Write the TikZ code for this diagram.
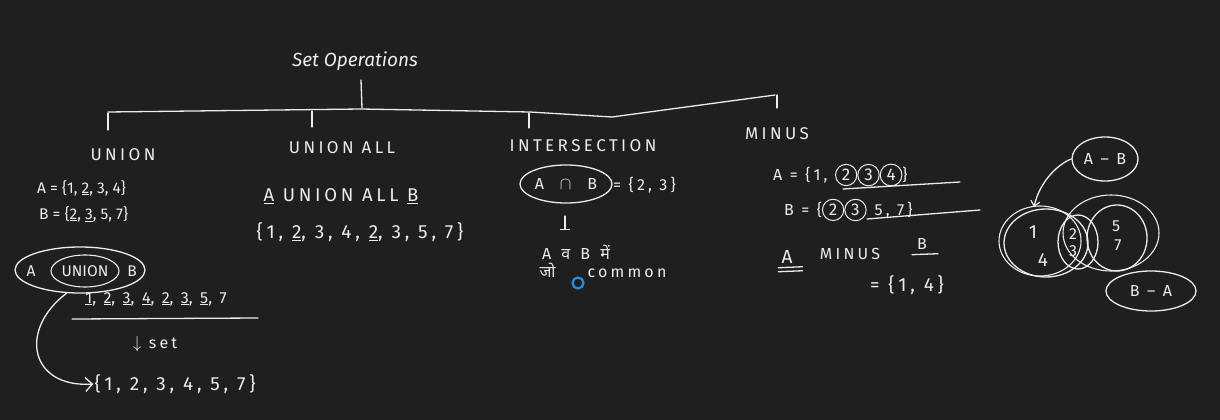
\documentclass[tikz,border=0pt]{standalone}
\usepackage{fontspec}
\setmainfont[LetterSpace=20]{Fira Sans}
\newfontfamily\titlefont{Fira Sans}
\newfontfamily\deva[Script=Devanagari]{Noto Sans}
\usetikzlibrary{arrows.meta,positioning,shapes.geometric}
\definecolor{bg}{RGB}{31,31,31}
\definecolor{ink}{RGB}{236,236,236}
\definecolor{cursorblue}{RGB}{40,140,220}
\newcommand\cird[1]{\tikz[baseline=(c.base)]\node[draw=ink,circle,inner sep=2.5pt,line width=1pt,text=ink](c){#1};}
\begin{document}
\begin{tikzpicture}[x=1pt,y=-1pt,
  every node/.style={text=ink,inner sep=1pt,font=\fontsize{17}{17}\selectfont},
  chalk/.style={draw=ink,line width=1.3pt,line cap=round,line join=round},
  hand/.style={font=\fontsize{16}{16}\selectfont},
  plain/.style={font=\fontsize{15.5}{15.5}\selectfont\titlefont},
  big/.style={font=\fontsize{19}{19}\selectfont},
  oval/.style={ellipse,draw=ink,line width=1.3pt}]
\fill[bg] (0,0) rectangle (1220,420);
\useasboundingbox (0,0) rectangle (1220,420);

% tree
\node[font=\fontsize{19}{19}\selectfont\titlefont\itshape] (title) at (355,61) {Set Operations};
\coordinate (rt) at (361,80);
\coordinate (rb) at (362,108);
\draw[chalk] (rt) -- (rb);
\draw[chalk] (108,112) -- (361,109) -- (530,112) -- (612,117) -- (775,95);
\coordinate (t1) at (108,113); \coordinate (t1b) at (108,130);
\coordinate (t2) at (312,111); \coordinate (t2b) at (312,127);
\coordinate (t3) at (529,113); \coordinate (t3b) at (529,128);
\coordinate (t4) at (777,95);  \coordinate (t4b) at (777,108);
\draw[chalk] (t1) -- (t1b) (t2) -- (t2b) (t3) -- (t3b) (t4) -- (t4b);

\node (union) at (123,155) {UNION};
\node (unall) at (342,148) {UNION ALL};
\node (inter) at (583,146) {INTERSECTION};
\node (minus) at (777,134) {MINUS};

% UNION
\node[plain,anchor=west] (ua) at (36,188) {A = \{1, \underline{2}, 3, 4\}};
\node[plain,anchor=west] (ub) at (38,214) {B = \{\underline{2}, \underline{3}, 5, 7\}};
\node[oval,minimum width=130pt,minimum height=46pt] (aub) at (80,270) {};
\node[plain] (aubA) at (31,271) {A};
\node[plain,oval,minimum width=68pt,minimum height=32pt,line width=1.1pt,inner sep=0pt] (un) at (85,271) {UNION};
\node[plain] (aubB) at (132,271) {B};
\node[hand] (seq) at (156,299) {\underline{1}, \underline{2}, \underline{3}, \underline{4}, \underline{2}, \underline{3}, \underline{5}, 7};
\coordinate (hl1) at (72,319); \coordinate (hl2) at (258,318);
\draw[chalk] (hl1) -- (hl2);
\node[hand] (setn) at (155,344) {$\downarrow$ set};
\node[big] (res) at (175,384) {\{1, 2, 3, 4, 5, 7\}};
\draw[chalk,-{Straight Barb[length=7pt,width=14pt,line width=1.3pt]}] (aub.240) .. controls (18,330) and (30,388) .. (res.west);

% UNION ALL
\node[font=\fontsize{18.5}{18.5}\selectfont] (uab) at (341,196) {\underline{A} UNION ALL \underline{B}};
\node[font=\fontsize{19}{19}\selectfont] (uas) at (360,232) {\{1, \underline{2}, 3, 4, \underline{2}, 3, 5, 7\}};

% INTERSECTION
\node[oval,minimum width=92pt,minimum height=38pt,hand] (aib) at (566,184) {A\quad$\cap$\quad B};
\node[hand,anchor=west] (ieq) at (612,185) {= \{2, 3\}};
\coordinate (ta) at (565,216); \coordinate (tb) at (565,230);
\draw[chalk,-{Bar[width=10pt,line width=1.3pt]}] (ta) -- (tb);
\node[hand] (hi1) at (576,252) {A \,{\deva व}\, B \,{\deva में}};
\node[hand] (hi2) at (603,270) {{\deva जो}\qquad common};
\node[circle,draw=cursorblue,line width=2.2pt,minimum size=11pt,inner sep=0pt] (cur) at (578,283) {};

% MINUS
\node[hand,anchor=west] (mA) at (772,175) {A = \{1, \cird{2}\cird{3}\cird{4}\}};
\node[hand,anchor=west] (mB) at (783,210) {B = \{\cird{2}\cird{3}\enspace 5, 7\}};
\coordinate (ul1) at (843,189); \coordinate (ul2) at (960,182);
\draw[chalk] (ul1) -- (ul2);
\coordinate (ul3) at (867,219); \coordinate (ul4) at (980,210);
\draw[chalk] (ul3) -- (ul4);
\node[big] (mmA) at (787,257) {A};
\node[hand] (mmM) at (850,254) {MINUS};
\node[hand] (mmB) at (922,244) {B};
\draw[chalk] (mmA.south west) ++(-2,3) -- ++(24,-1);
\draw[chalk] (mmA.south west) ++(-2,7) -- ++(24,-1);
\draw[chalk] (mmB.south west) ++(-4,4) -- ++(26,-1);
\node[big] (mres) at (907,285) {= \{1, 4\}};

% Venn
\draw[chalk] (1046,243) ellipse [x radius=42, y radius=34];
\draw[chalk,line width=1.1pt] (1040,241) ellipse [x radius=41, y radius=35];
\draw[chalk] (1078,242) ellipse [x radius=20, y radius=27];
\draw[chalk] (1117,238) ellipse [x radius=30, y radius=33];
\draw[chalk,line width=1.1pt] (1111,233) ellipse [x radius=48, y radius=38];
\node[big] (v1) at (1033,232) {1};
\node[big] (v4) at (1043,260) {4};
\node[hand] (v2) at (1073,234) {2};
\node[hand] (v3) at (1073,251) {3};
\node[hand] (v5) at (1116,226) {5};
\node[hand] (v7) at (1118,245) {7};
\node[hand,oval,minimum width=66pt,minimum height=44pt] (amb) at (1105,159) {A -- B};
\node[hand,oval,minimum width=90pt,minimum height=40pt] (bma) at (1151,291) {B -- A};
\coordinate (vtop) at (1034,207);
\draw[chalk,-{Straight Barb[length=5pt,width=9pt,line width=1.2pt]}] (amb.west) .. controls (1060,163) and (1040,180) .. (vtop);
\end{tikzpicture}
\end{document}
